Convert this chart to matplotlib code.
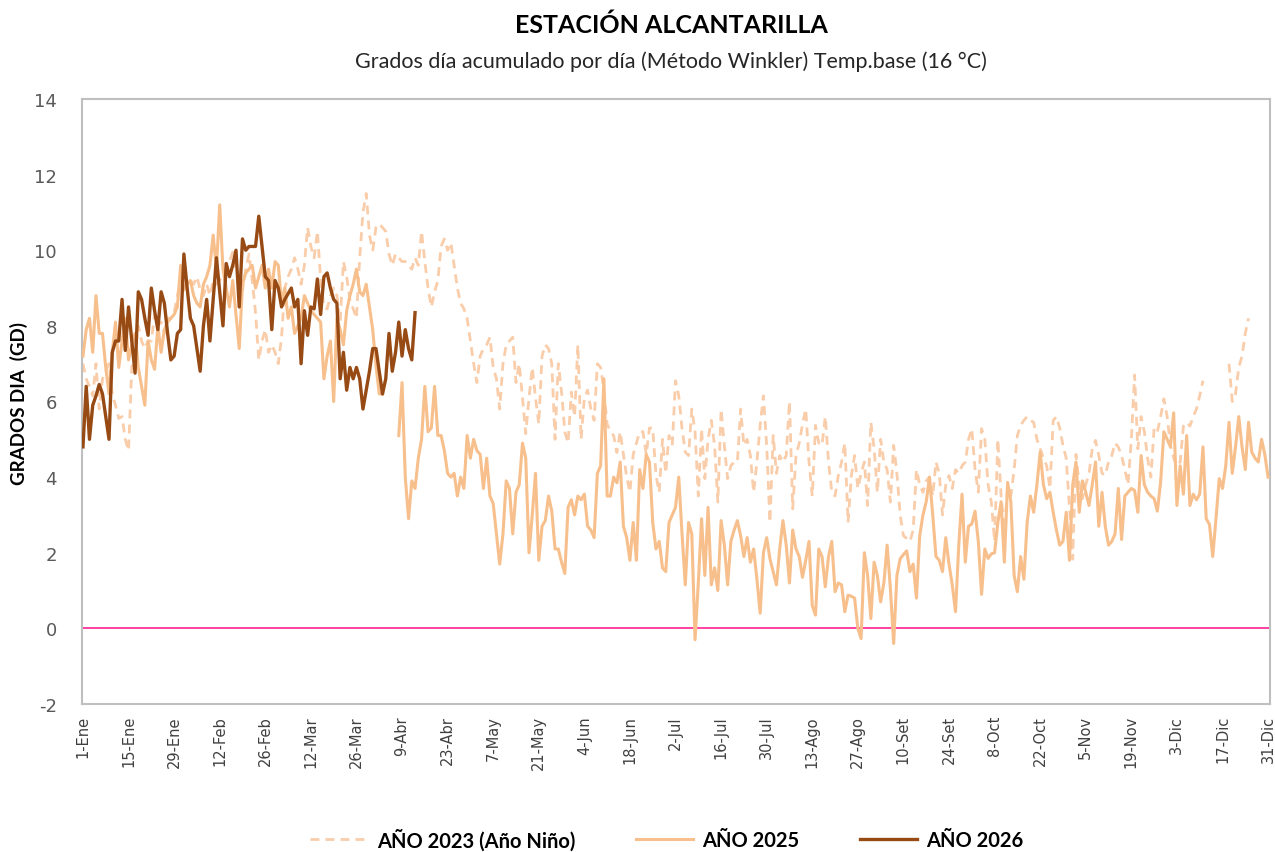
import matplotlib
matplotlib.use("Agg")
import matplotlib.pyplot as plt
from matplotlib.lines import Line2D
import numpy as np

TITLE = "ESTACIÓN ALCANTARILLA"
SUBTITLE = "Grados día acumulado por día (Método Winkler) Temp.base (16 °C)"
YLABEL = "GRADOS DIA  (GD)"

tick_labels = ["1-Ene", "15-Ene", "29-Ene", "12-Feb", "26-Feb", "12-Mar", "26-Mar",
               "9-Abr", "23-Abr", "7-May", "21-May", "4-Jun", "18-Jun", "2-Jul",
               "16-Jul", "30-Jul", "13-Ago", "27-Ago", "10-Set", "24-Set", "8-Oct",
               "22-Oct", "5-Nov", "19-Nov", "3-Dic", "17-Dic", "31-Dic"]

series_names = ["AÑO 2023 (Año Niño)", "AÑO 2025", "AÑO 2026"]

# daily GD values, one row = two weeks (None = no data)
gd_2023 = [
    7.0, 6.6, 6.4, 6.15, 7.0, 5.8, 6.6, 6.8, 7.0, 6.2, 5.9, 5.55, 5.6, 5.0,
    4.7, 6.9, 7.3, 8.0, 7.6, 7.4, 7.6, 7.6, 8.3, 8.0, 8.1, 7.8, 8.2, 8.2,
    8.35, 8.8, 9.2, 9.3, 9.25, 9.2, 9.1, 9.3, 8.95, 8.8, 9.1, 8.8, 9.2, 9.1,
    9.2, 9.4, 9.5, 9.7, 9.95, 9.5, 9.3, 8.95, 9.5, 9.9, 9.2, 8.35, 7.1, 7.6,
    7.9, 7.3, 7.5, 7.3, 7.0, 7.7, 9.0, 9.3, 9.5, 9.8, 9.5, 9.1, 9.6, 10.6,
    10.1, 9.8, 10.5, 9.24, 8.5, 8.45, 8.8, 9.0, 8.8, 8.1, 9.7, 9.3, 8.7, 8.45,
    8.2, 9.8, 11.0, 11.5, 10.4, 10.0, 10.6, 10.7, 10.6, 10.5, 9.9, 9.6, 9.9, 9.8,
    9.7, 9.7, 9.6, 9.5, 9.8, 9.6, 10.5, 9.7, 9.0, 8.5, 8.9, 9.2, 10.1, 10.3,
    10.0, 10.2, 9.6, 9.0, 8.6, 8.45, 8.2, 7.6, 7.0, 6.5, 7.2, 7.4, 7.5, 7.7,
    6.9, 6.6, 5.8, 7.0, 7.5, 7.6, 7.7, 6.5, 7.0, 6.1, 5.15, 6.1, 6.9, 6.1,
    5.4, 7.2, 7.5, 7.4, 7.0, 5.0, 7.0, 6.25, 5.2, 4.9, 6.25, 5.6, 7.5, 5.0,
    6.1, 6.3, 5.8, 5.5, 7.0, 6.9, 6.3, 5.4, 5.2, 5.1, 4.65, 5.2, 4.6, 4.0,
    3.6, 4.6, 4.9, 5.2, 5.2, 4.6, 5.3, 5.3, 4.04, 3.6, 5.0, 4.1, 5.1, 4.84,
    6.55, 6.15, 5.28, 4.66, 4.57, 5.8, 5.2, 3.5, 5.28, 3.96, 5.0, 5.5, 4.84, 3.34,
    5.8, 4.84, 3.96, 4.3, 4.4, 4.4, 5.8, 4.84, 5.0, 4.57, 3.6, 4.4, 5.37, 6.15,
    4.84, 2.8, 5.1, 4.1, 4.57, 4.4, 4.57, 6.0, 3.16, 4.57, 4.9, 5.4, 5.8, 4.4,
    3.5, 5.37, 4.9, 4.84, 5.6, 4.4, 3.6, 3.5, 4.04, 4.4, 4.9, 2.8, 4.04, 4.57,
    3.7, 4.1, 4.4, 3.25, 5.45, 4.75, 3.6, 5.0, 4.4, 4.2, 3.34, 4.84, 4.1, 3.0,
    2.45, 2.38, 2.3, 2.6, 4.2, 3.8, 3.6, 3.9, 4.0, 3.5, 4.4, 4.1, 3.0, 3.8,
    4.04, 3.7, 4.2, 4.1, 4.3, 4.4, 5.0, 5.28, 4.2, 3.6, 5.28, 5.0, 3.8, 3.34,
    2.3, 5.0, 3.5, 2.6, 3.7, 3.5, 4.2, 5.1, 5.37, 5.5, 5.6, 5.5, 5.45, 5.0,
    4.75, 4.5, 4.3, 3.7, 5.5, 5.6, 5.3, 4.84, 4.5, 3.2, 1.83, 4.6, 3.8, 3.43,
    3.8, 4.1, 4.75, 4.97, 4.57, 4.1, 4.05, 4.4, 4.57, 4.9, 4.8, 4.57, 4.2, 3.8,
    5.0, 6.7, 4.75, 5.6, 5.2, 4.5, 4.0, 5.3, 5.2, 5.6, 6.07, 5.6, 4.84, 4.5,
    4.3, 4.4, 5.35, 5.45, 5.35, 5.6, 5.8, 6.15, 6.55, None, None, None, None, None,
    None, None, 7.0, 6.0, 6.2, 6.9, 7.2, 7.8, 8.2, None, None, None, None, None,
    None,
]

gd_2025 = [
    7.2, 7.9, 8.2, 7.3, 8.8, 7.8, 7.8, 6.9, 6.2, 7.3, 8.1, 6.9, 7.6, 8.2,
    7.1, 7.5, 7.8, 6.9, 6.4, 5.9, 7.6, 7.1, 6.85, 8.0, 7.3, 7.9, 8.1, 8.2,
    8.3, 8.5, 9.6, 8.95, 9.1, 9.2, 8.8, 8.6, 8.5, 9.1, 9.3, 9.6, 10.4, 9.5,
    11.2, 9.5, 9.0, 8.5, 9.2, 8.3, 7.4, 9.1, 9.4, 9.5, 9.6, 9.0, 9.3, 9.6,
    9.0, 9.5, 9.0, 9.7, 9.6, 8.6, 9.0, 8.2, 8.5, 7.8, 8.0, 8.2, 8.8, 8.6,
    8.4, 8.3, 8.2, 8.1, 6.6, 7.2, 7.6, 6.0, 8.2, 7.9, 7.5, 8.4, 8.8, 9.1,
    9.5, 8.9, 8.8, 9.1, 8.5, 7.9, 6.95, 6.2, 6.2, None, None, None, None, 5.1,
    6.5, 4.0, 2.9, 3.9, 3.7, 4.5, 5.0, 6.4, 5.2, 5.3, 6.4, 5.1, 5.1, 4.7,
    4.1, 4.0, 4.1, 3.5, 4.0, 3.7, 5.1, 4.5, 5.0, 4.7, 4.6, 3.7, 4.5, 3.5,
    3.3, 2.5, 1.7, 2.5, 3.9, 3.7, 2.5, 3.6, 3.8, 4.9, 4.5, 2.0, 3.0, 4.1,
    1.8, 2.7, 2.85, 3.5, 3.1, 2.1, 2.1, 1.75, 1.45, 3.2, 3.4, 3.0, 3.5, 3.4,
    3.55, 2.7, 2.6, 2.4, 4.1, 4.3, 6.6, 3.5, 3.5, 4.0, 3.85, 4.4, 2.7, 2.4,
    1.8, 2.8, 1.8, 4.2, 3.7, 4.6, 4.4, 2.8, 2.1, 2.3, 1.6, 1.5, 2.8, 3.0,
    3.2, 4.0, 2.5, 1.15, 2.8, 2.5, -0.3, 1.2, 2.9, 1.4, 3.2, 1.15, 1.6, 1.0,
    2.85, 2.2, 1.15, 2.3, 2.6, 2.85, 2.45, 1.9, 2.4, 1.75, 2.1, 1.3, 0.4, 2.0,
    2.4, 1.84, 1.5, 1.15, 2.1, 2.85, 2.2, 1.2, 2.6, 2.1, 1.9, 1.35, 1.8, 2.3,
    0.6, 0.35, 2.1, 1.9, 1.1, 1.9, 2.3, 0.97, 1.2, 1.15, 0.44, 0.88, 0.85, 0.8,
    0.0, -0.27, 2.0, 1.4, 0.26, 1.75, 1.4, 0.7, 1.2, 2.2, 1.05, -0.4, 1.4, 1.84,
    1.95, 2.05, 1.5, 1.7, 0.8, 2.45, 3.0, 3.35, 4.0, 3.0, 1.9, 1.8, 1.5, 2.4,
    1.7, 1.15, 0.44, 2.2, 3.55, 1.75, 2.7, 2.76, 3.1, 2.3, 0.9, 2.1, 1.85, 1.97,
    2.0, 2.8, 3.35, 1.75, 3.86, 3.35, 1.4, 0.97, 1.9, 1.3, 2.8, 3.5, 3.07, 3.8,
    4.66, 3.8, 3.43, 3.6, 3.07, 2.6, 2.2, 2.3, 3.07, 1.8, 3.8, 4.4, 3.07, 3.9,
    3.6, 3.25, 3.8, 4.4, 2.7, 3.6, 2.7, 2.2, 2.3, 2.5, 3.7, 2.35, 3.5, 3.6,
    3.7, 3.65, 3.07, 4.57, 3.8, 3.6, 3.5, 3.43, 3.1, 3.87, 5.2, 5.0, 4.8, 5.7,
    3.25, 4.3, 3.55, 5.1, 3.25, 3.55, 3.4, 3.55, 4.8, 2.9, 2.75, 1.9, 2.9, 3.96,
    3.7, 4.3, 5.45, 4.1, 4.8, 5.6, 4.8, 4.2, 5.45, 4.66, 4.5, 4.4, 5.0, 4.6,
    4.0,
]

gd_2026 = [
    4.8, 6.4, 5.0, 5.9, 6.15, 6.45, 6.2, 5.6, 5.0, 7.3, 7.6, 7.6, 8.7, 7.35,
    8.5, 7.6, 6.75, 8.9, 8.7, 8.2, 7.75, 9.0, 8.4, 7.9, 8.9, 8.6, 7.8, 7.1,
    7.2, 7.8, 7.9, 9.9, 9.0, 8.2, 8.0, 7.4, 6.8, 8.0, 8.7, 7.6, 8.7, 9.8,
    8.9, 8.0, 9.65, 9.3, 9.6, 10.0, 8.5, 10.3, 10.0, 10.1, 10.1, 10.1, 10.9, 10.1,
    9.3, 9.2, 7.9, 9.2, 9.0, 8.5, 8.7, 8.85, 9.0, 8.5, 8.7, 7.0, 8.4, 7.75,
    8.5, 8.45, 9.24, 8.3, 9.3, 9.4, 9.0, 8.7, 8.6, 6.6, 7.3, 6.3, 6.9, 6.6,
    6.9, 6.6, 5.8, 6.3, 6.8, 7.4, 7.4, 6.8, 6.2, 6.6, 7.8, 6.8, 7.3, 8.1,
    7.2, 7.9, 7.4, 7.1, 8.35,
]

C_2023 = "#F9CDAA"
C_2025 = "#F7BF8C"
C_2026 = "#974A14"
C_ZERO = "#FF3399"
C_FRAME = "#BFBFBF"


def to_array(vals):
    return np.array([np.nan if v is None else v for v in vals], dtype=float)


def main():
    y23 = to_array(gd_2023)
    y25 = to_array(gd_2025)
    y26 = to_array(gd_2026)

    fig = plt.figure(figsize=(12.75, 8.53), dpi=100)
    ax = fig.add_axes([0.0643, 0.1735, 0.9318, 0.7093])

    ax.axhline(0, color=C_ZERO, lw=1.3, zorder=1)
    ax.plot(np.arange(len(y23)), y23, color=C_2023, lw=2.0,
            linestyle=(0, (3.2, 2.2)), zorder=2)
    ax.plot(np.arange(len(y25)), y25, color=C_2025, lw=2.2, zorder=3)
    ax.plot(np.arange(len(y26)), y26, color=C_2026, lw=2.4, zorder=4)

    ax.set_xlim(-0.3, 364.6)
    ax.set_ylim(-2, 14)
    ax.set_yticks(np.arange(-2, 15, 2))
    ax.set_yticklabels([str(v) for v in range(-2, 15, 2)], fontsize=13,
                       color="#595959", family="DejaVu Sans")
    ax.set_xticks(np.arange(0, 365, 14))
    ax.set_xticklabels(tick_labels, rotation=90, fontsize=10.5, color="#404040",
                       family="DejaVu Sans")
    ax.tick_params(axis="both", length=0)
    ax.tick_params(axis="y", pad=18)
    ax.tick_params(axis="x", pad=8)

    for s in ax.spines.values():
        s.set_color(C_FRAME)
        s.set_linewidth(1.5)

    fig.text(0.527, 0.970, TITLE, ha="center", va="center", fontsize=18,
             fontweight="bold", family=["Lato", "DejaVu Sans"])
    fig.text(0.526, 0.928, SUBTITLE, ha="center", va="center", fontsize=15.5,
             family=["Lato", "DejaVu Sans"], color="#262626")
    fig.text(0.015, 0.527, YLABEL, ha="center", va="center", rotation=90,
             fontsize=13.5, fontweight="bold", family=["Lato", "DejaVu Sans"])

    handles = [
        Line2D([], [], color=C_2023, lw=2.0, linestyle=(0, (3.2, 2.2))),
        Line2D([], [], color=C_2025, lw=2.2),
        Line2D([], [], color=C_2026, lw=2.4),
    ]
    fig.legend(handles, series_names, loc="center", bbox_to_anchor=(0.523, 0.015),
               ncol=3, frameon=False, handlelength=2.85, handletextpad=0.45,
               columnspacing=3.0,
               prop={"family": ["Lato", "DejaVu Sans"], "weight": "bold", "size": 14.5})

    fig.savefig("out.png", dpi=100)


if __name__ == "__main__":
    main()
